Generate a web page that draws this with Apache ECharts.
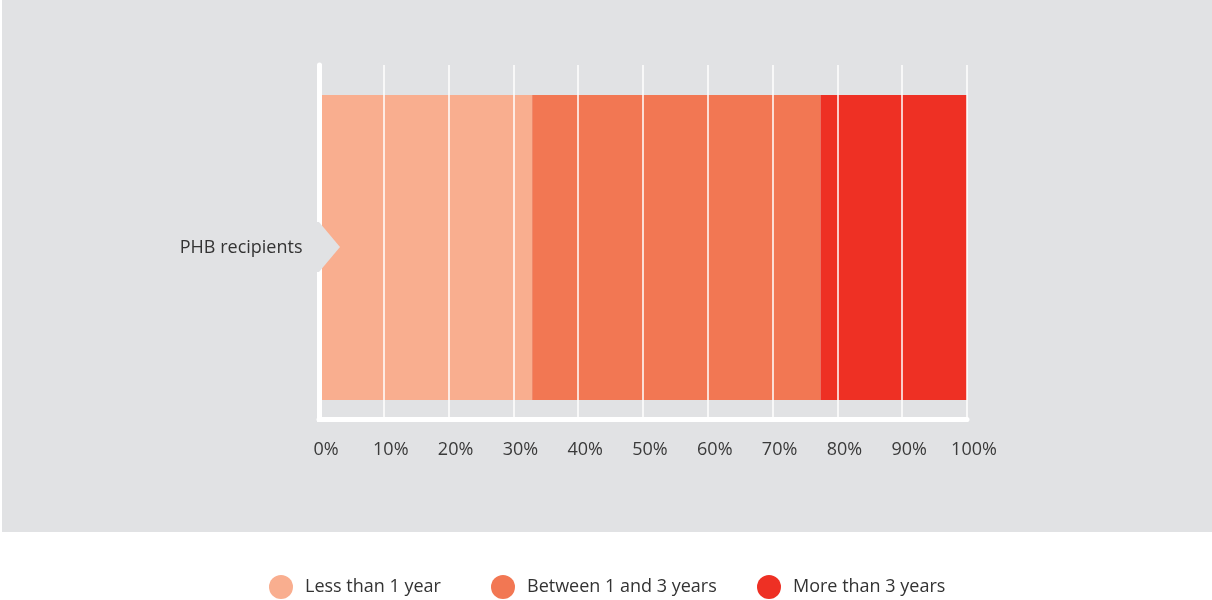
<!DOCTYPE html>
<html>
<head>
<meta charset="utf-8">
<script src="https://cdn.jsdelivr.net/npm/echarts@6/dist/echarts.min.js"></script>
<style>
  html, body { margin: 0; padding: 0; background: #ffffff; }
  #chart { width: 1212px; height: 600px; }
</style>
</head>
<body>
<div id="chart"></div>
<script>
// Share of PHB recipients by length of time receiving the budget
const categories = ['PHB recipients'];
const seriesNames = ['Less than 1 year', 'Between 1 and 3 years', 'More than 3 years'];
const lessThanOneYear = [32.9];
const betweenOneAndThree = [44.5];
const moreThanThree = [22.6];
const tickStep = 10;
const tickFormat = '{value}%';

const colors = ['#F9AE8F', '#F27753', '#EE3024'];
const seriesValues = [lessThanOneYear, betweenOneAndThree, moreThanThree];
const FONT = '"Open Sans", "Noto Sans", sans-serif';
const PANEL = '#E1E2E4';

const chart = echarts.init(document.getElementById('chart'), null, { renderer: 'canvas' });

const legendLefts = [269, 491, 757];

const option = {
  backgroundColor: '#ffffff',
  animation: false,
  grid: { left: 319, top: 65, width: 648, height: 365, containLabel: false },
  legend: seriesNames.map((name, i) => ({
    data: [name],
    left: legendLefts[i],
    top: 575,
    padding: 0,
    icon: 'circle',
    itemWidth: 24,
    itemHeight: 24,
    selectedMode: false,
    textStyle: { fontFamily: FONT, fontSize: 18, color: '#333333', padding: [0, 0, 0, 7] }
  })),
  xAxis: [
    {
      type: 'value',
      min: 0,
      max: 100,
      interval: tickStep,
      z: 5,
      axisLine: { show: false },
      axisTick: { show: false },
      axisLabel: {
        formatter: tickFormat,
        fontFamily: FONT,
        fontSize: 18,
        color: '#3a3a3a',
        margin: 11,
        padding: [0, 0, 0, 14]
      },
      splitLine: { show: true, showMinLine: false, lineStyle: { color: '#ffffff', width: 1.5 } }
    },
    {
      // white baseline under the bar
      type: 'value',
      min: 0,
      max: 100,
      position: 'bottom',
      offset: -10.5,
      z: 7,
      axisLine: { show: true, onZero: false, lineStyle: { color: '#ffffff', width: 5 } },
      axisTick: { show: false },
      axisLabel: { show: false },
      splitLine: { show: false }
    }
  ],
  yAxis: {
    type: 'category',
    data: categories,
    offset: 2.5,
    z: 5,
    axisLine: { show: true, lineStyle: { color: '#ffffff', width: 5 } },
    axisTick: { show: false },
    axisLabel: { fontFamily: FONT, fontSize: 18, color: '#333333', margin: 14 },
    splitLine: { show: false }
  },
  series: seriesNames.map((name, i) => ({
    name: name,
    type: 'bar',
    stack: 'total',
    barWidth: 305,
    z: 2,
    itemStyle: { color: colors[i] },
    emphasis: { disabled: true },
    data: seriesValues[i]
  }))
};

chart.setOption(option);

// Panel, masking strip below the baseline, and the pointer on the category label
const x0 = chart.convertToPixel({ xAxisIndex: 0 }, 0);
const x1 = chart.convertToPixel({ xAxisIndex: 0 }, 100);
const yc = chart.convertToPixel({ yAxisIndex: 0 }, categories[0]);
const axisX = x0 - 5;

chart.setOption({
  graphic: [
    { type: 'rect', z: -10, silent: true, shape: { x: 2, y: 0, width: 1210, height: 532 }, style: { fill: PANEL } },
    { type: 'rect', z: 6, silent: true, shape: { x: axisX - 2, y: 422, width: x1 - axisX + 8, height: 12 }, style: { fill: PANEL } },
    {
      type: 'polygon', z: 8, silent: true,
      shape: { points: [[axisX, yc - 25.5], [x0, yc - 25.5], [x0 + 21, yc - 0.5], [x0, yc + 24.5], [axisX, yc + 24.5]] },
      style: { fill: PANEL }
    }
  ]
});
</script>
</body>
</html>
